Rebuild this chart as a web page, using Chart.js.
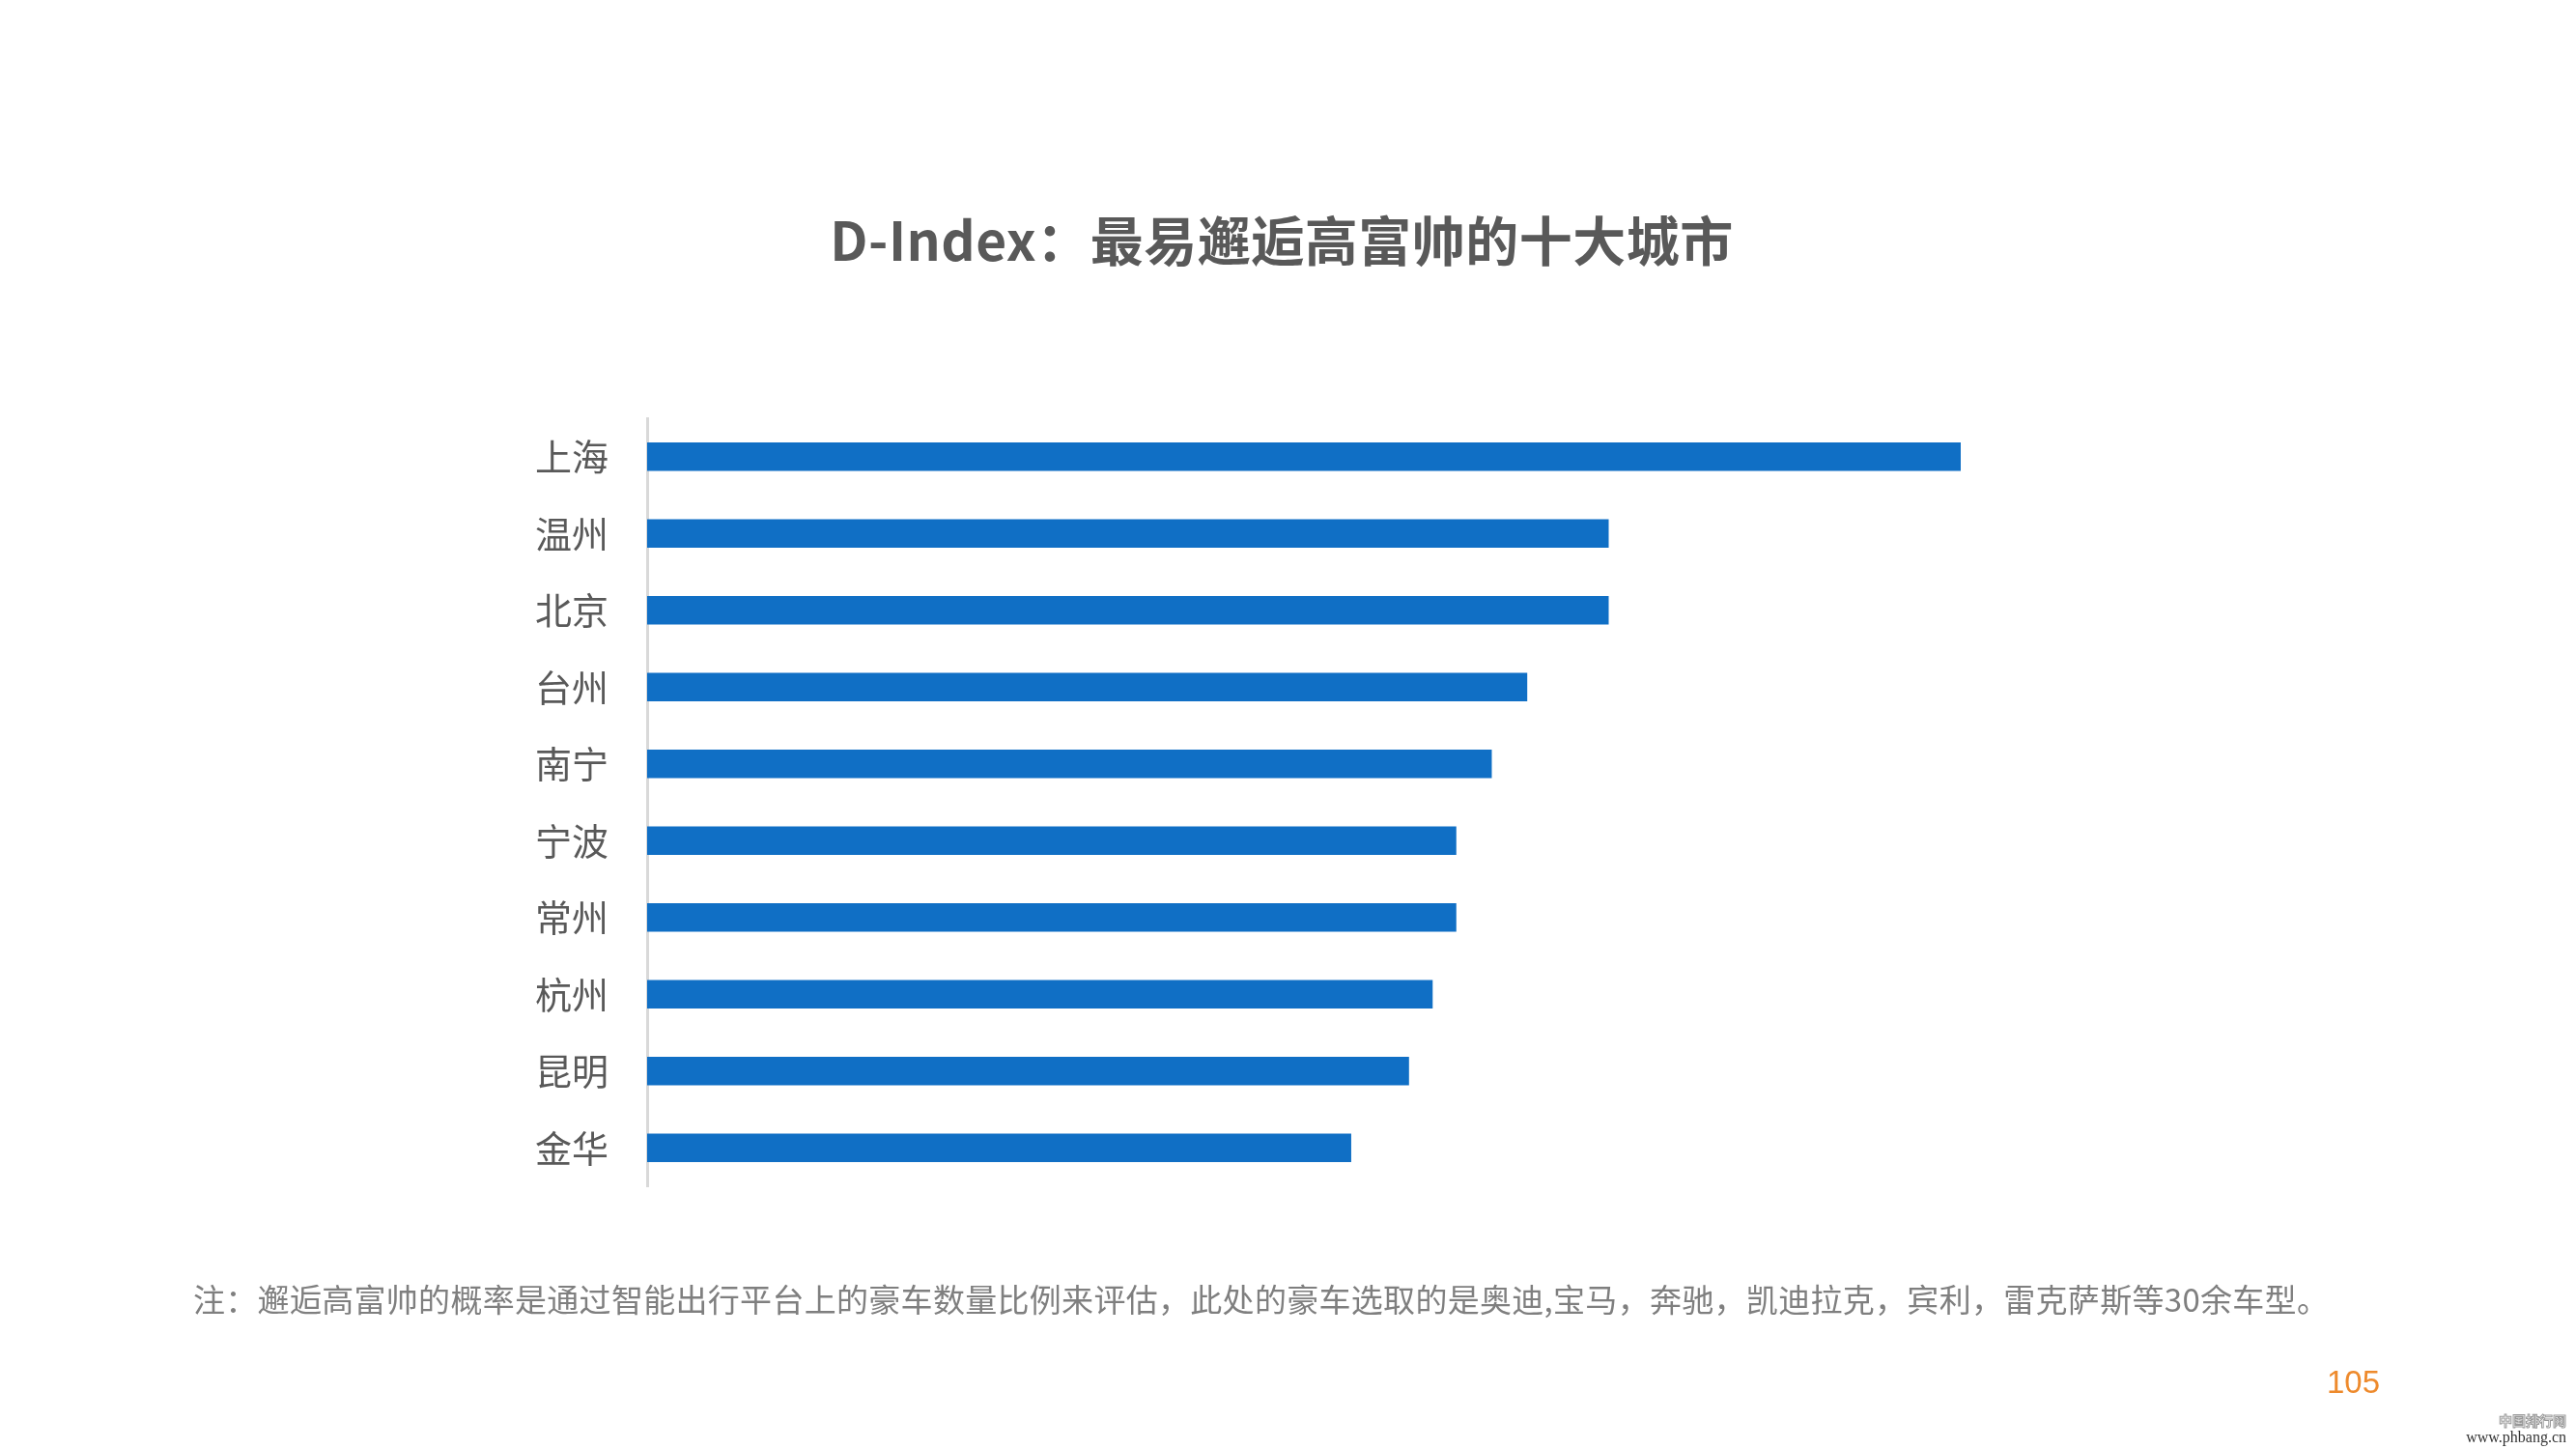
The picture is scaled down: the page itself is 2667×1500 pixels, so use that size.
<!DOCTYPE html>
<html lang="zh">
<head>
    <meta charset="UTF-8">
    <script src="https://cdn.jsdelivr.net/npm/chart.js"></script>
    <title>D-Index</title>
    <style>
        body {
            margin: 0;
            background: #fff;
            width: 2667px;
            height: 1500px;
            position: relative;
            overflow: hidden;
            font-family: "Noto Sans CJK SC", "Noto Sans", sans-serif;
        }
        #chart {
            position: absolute;
            left: 0;
            top: 0;
        }
        .title {
            position: absolute;
            left: 0;
            width: 2654px;
            top: 208px;
            text-align: center;
            font-size: 55px;
            font-weight: bold;
            color: #595959;
            line-height: 76px;
            letter-spacing: 0.5px;
        }
        .note {
            position: absolute;
            left: 200px;
            top: 1322px;
            font-size: 33px;
            letter-spacing: 0.3px;
            color: #7f7f7f;
            line-height: 44px;
            white-space: nowrap;
        }
        .page {
            position: absolute;
            left: 2409px;
            top: 1411px;
            font-family: "Liberation Sans", Arial, sans-serif;
            font-size: 33px;
            color: #ee8a2c;
            line-height: 40px;
        }
        .mark {
            position: absolute;
            right: 10px;
            top: 1462px;
            text-align: right;
            font-family: "Liberation Serif", serif;
            font-size: 16px;
            line-height: 17px;
            color: #333;
        }
        .mark .cn {
            font-family: "Noto Sans CJK SC", sans-serif;
            font-weight: bold;
            font-size: 14px;
            color: #fff;
            -webkit-text-stroke: 1px #999;
        }
    </style>
</head>
<body>

<div class="title">D-Index：最易邂逅高富帅的十大城市</div>
<canvas id="chart" width="2667" height="1500"></canvas>
<div class="note">注：邂逅高富帅的概率是通过智能出行平台上的豪车数量比例来评估，此处的豪车选取的是奥迪,宝马，奔驰，凯迪拉克，宾利，雷克萨斯等30余车型。</div>
<div class="page">105</div>
<div class="mark"><span class="cn">中国排行网</span><br>www.phbang.cn</div>

<script>
    // 城市与指数（按图中条形长度估读，上海 = 100）
    const cities = ['上海', '温州', '北京', '台州', '南宁', '宁波', '常州', '杭州', '昆明', '金华'];
    const dIndex = [100, 73.2, 73.2, 67.0, 64.3, 61.6, 61.6, 59.8, 58.0, 53.6];

    new Chart(document.getElementById('chart'), {
        type: 'bar',
        data: {
            labels: cities,
            datasets: [{
                data: dIndex,
                backgroundColor: '#106fc5',
                barPercentage: 0.37,
                categoryPercentage: 1
            }]
        },
        options: {
            indexAxis: 'y',
            responsive: false,
            animation: false,
            layout: {
                padding: { left: 0, top: 433, right: 637, bottom: 272 }
            },
            scales: {
                x: {
                    display: false,
                    min: 0,
                    max: 100
                },
                y: {
                    afterFit: (scale) => { scale.width = 670; },
                    grid: { display: false, drawTicks: false },
                    border: { display: true, color: '#d9d9d9', width: 3 },
                    ticks: {
                        padding: 40,
                        color: '#595959',
                        font: { family: '"Noto Sans CJK SC", sans-serif', size: 38 }
                    }
                }
            },
            plugins: {
                legend: { display: false },
                tooltip: { enabled: false }
            }
        }
    });
</script>

</body>
</html>
